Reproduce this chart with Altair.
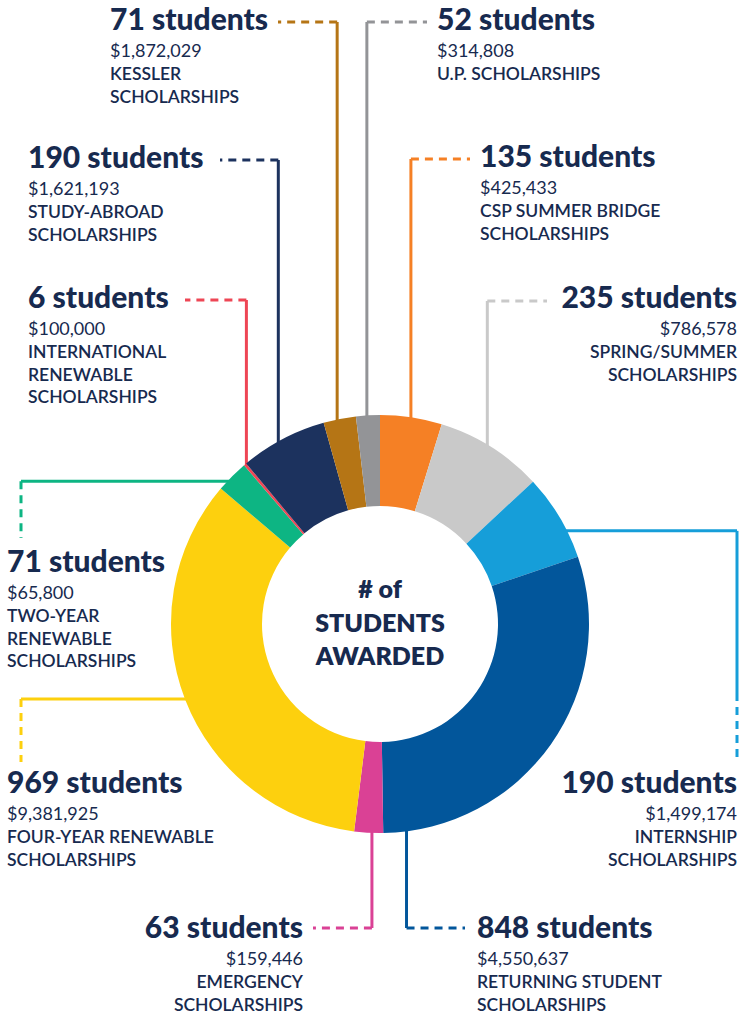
import math
import altair as alt
import pandas as pd

W, H = 740, 1017
CX, CY = 380, 624
R_OUT, R_IN = 209, 118
TEXT = "#172A4F"
FONT = "Lato"

# ---------------- data ----------------
categories = ["CSP Summer Bridge", "Spring/Summer", "Internship", "Returning Student",
              "Emergency", "Four-Year Renewable", "Two-Year Renewable",
              "International Renewable", "Study-Abroad", "Kessler", "U.P."]
students = [135, 235, 190, 848, 63, 969, 71, 6, 190, 71, 52]
amounts = ["$425,433", "$786,578", "$1,499,174", "$4,550,637", "$159,446", "$9,381,925",
           "$65,800", "$100,000", "$1,621,193", "$1,872,029", "$314,808"]
label_lines = [
    ["CSP SUMMER BRIDGE", "SCHOLARSHIPS"],
    ["SPRING/SUMMER", "SCHOLARSHIPS"],
    ["INTERNSHIP", "SCHOLARSHIPS"],
    ["RETURNING STUDENT", "SCHOLARSHIPS"],
    ["EMERGENCY", "SCHOLARSHIPS"],
    ["FOUR-YEAR RENEWABLE", "SCHOLARSHIPS"],
    ["TWO-YEAR", "RENEWABLE", "SCHOLARSHIPS"],
    ["INTERNATIONAL", "RENEWABLE", "SCHOLARSHIPS"],
    ["STUDY-ABROAD", "SCHOLARSHIPS"],
    ["KESSLER", "SCHOLARSHIPS"],
    ["U.P. SCHOLARSHIPS"],
]
colors = ["#F58025", "#C9C9C9", "#169ED9", "#02569B", "#DA4195", "#FDD00E",
          "#0DB583", "#EE4655", "#1C325E", "#B57515", "#939497"]
center_lines = ["# of", "STUDENTS", "AWARDED"]

# ---------------- layout (label placement, leader routing) ----------------
layout = [
    dict(lx=480, ly=167, align="left",  kind="up",   frac=0.50, elbow=159, dash_end=470),
    dict(lx=737, ly=308, align="right", kind="up",   frac=0.47, elbow=301, dash_end=547),
    dict(lx=737, ly=793, align="right", kind="side", frac=0.67, elbow=737, dash_end=763, solid_to=693),
    dict(lx=477, ly=938, align="left",  kind="up",   frac=0.94, elbow=928, dash_end=465),
    dict(lx=303, ly=938, align="right", kind="up",   frac=0.39, elbow=928, dash_end=313),
    dict(lx=7,   ly=793, align="left",  kind="side", frac=0.50, elbow=21,  dash_end=762),
    dict(lx=7,   ly=572, align="left",  kind="side", frac=0.36, elbow=21,  dash_end=538),
    dict(lx=28,  ly=308, align="left",  kind="up",   frac=0.50, elbow=300, dash_end=185),
    dict(lx=28,  ly=168, align="left",  kind="up",   frac=0.43, elbow=160, dash_end=220),
    dict(lx=110, ly=30,  align="left",  kind="up",   frac=0.41, elbow=22,  dash_end=278),
    dict(lx=437, ly=30,  align="left",  kind="up",   frac=0.45, elbow=22,  dash_end=427),
]

arc_df = pd.DataFrame({"cat": categories, "students": students, "idx": range(len(categories))})

# leader segments derived from the slice angles
total = sum(students)
segs = []
cum = 0
for cat, n, lay in zip(categories, students, layout):
    a0 = cum / total * 2 * math.pi
    a1 = (cum + n) / total * 2 * math.pi
    cum += n
    ang = a0 + lay["frac"] * (a1 - a0)
    r = R_OUT - 2
    xs = CX + r * math.sin(ang)
    ys = CY - r * math.cos(ang)
    if lay["kind"] == "up":
        segs.append(dict(cat=cat, x=xs, y=ys, x2=xs, y2=lay["elbow"], dashed=0))
        segs.append(dict(cat=cat, x=xs, y=lay["elbow"], x2=lay["dash_end"], y2=lay["elbow"], dashed=1))
    else:
        ex = lay["elbow"]
        segs.append(dict(cat=cat, x=xs, y=ys, x2=ex, y2=ys, dashed=0))
        st = lay.get("solid_to", ys)
        if st != ys:
            segs.append(dict(cat=cat, x=ex, y=ys, x2=ex, y2=st, dashed=0))
        segs.append(dict(cat=cat, x=ex, y=st, x2=ex, y2=lay["dash_end"], dashed=1))
seg_df = pd.DataFrame(segs)

# text lines
trows = []
for cat, n, amt, lines, lay in zip(categories, students, amounts, label_lines, layout):
    y0 = lay["ly"]
    trows.append(dict(text=f"{n} students", x=lay["lx"], y=y0, kind="title", al=lay["align"]))
    trows.append(dict(text=amt, x=lay["lx"], y=y0 + 27, kind="amount", al=lay["align"]))
    for j, ln in enumerate(lines):
        trows.append(dict(text=ln, x=lay["lx"], y=y0 + 50 + 22.5 * j, kind="cat", al=lay["align"]))
for j, ln in enumerate(center_lines):
    trows.append(dict(text=ln, x=CX, y=598 + 33.5 * j, kind="center", al="center"))
text_df = pd.DataFrame(trows)

xs_scale = alt.Scale(domain=[0, W], nice=False, zero=False)
ys_scale = alt.Scale(domain=[0, H], nice=False, zero=False, reverse=True)
color_scale = alt.Scale(domain=categories, range=colors)

def rule_layer(dashed):
    m = alt.Chart(seg_df).transform_filter(alt.datum.dashed == dashed)
    if dashed:
        m = m.mark_rule(strokeWidth=3, strokeDash=[8, 6], strokeCap="butt")
    else:
        m = m.mark_rule(strokeWidth=3, strokeCap="butt")
    return m.encode(
        x=alt.X("x:Q", scale=xs_scale, axis=None),
        y=alt.Y("y:Q", scale=ys_scale, axis=None),
        x2="x2:Q", y2="y2:Q",
        color=alt.Color("cat:N", scale=color_scale, legend=None),
    )

arc = alt.Chart(arc_df).mark_arc(innerRadius=R_IN, outerRadius=R_OUT, stroke=None).encode(
    theta=alt.Theta("students:Q", stack=True),
    color=alt.Color("cat:N", scale=color_scale, legend=None),
    order=alt.Order("idx:Q", sort="ascending"),
    x=alt.value(CX), y=alt.value(CY),
)

styles = {
    "title": dict(fontSize=30, fontWeight=900),
    "amount": dict(fontSize=18, fontWeight=400),
    "cat": dict(fontSize=17.5, fontWeight=600),
    "center": dict(fontSize=25, fontWeight=800),
}

text_layers = []
for kind, st in styles.items():
    for al in ["left", "right", "center"]:
        sub = text_df[(text_df["kind"] == kind) & (text_df["al"] == al)]
        if sub.empty:
            continue
        text_layers.append(
            alt.Chart(sub).mark_text(align=al, baseline="alphabetic", font=FONT,
                                     color=TEXT, **st).encode(
                x=alt.X("x:Q", scale=xs_scale, axis=None),
                y=alt.Y("y:Q", scale=ys_scale, axis=None),
                text="text:N",
            )
        )

chart = alt.layer(rule_layer(0), rule_layer(1), arc, *text_layers).properties(
    width=W, height=H, padding=0, autosize="none", background="white"
).configure_view(stroke=None)

chart.save("out.html", embed_options={"renderer": "svg", "actions": False})
